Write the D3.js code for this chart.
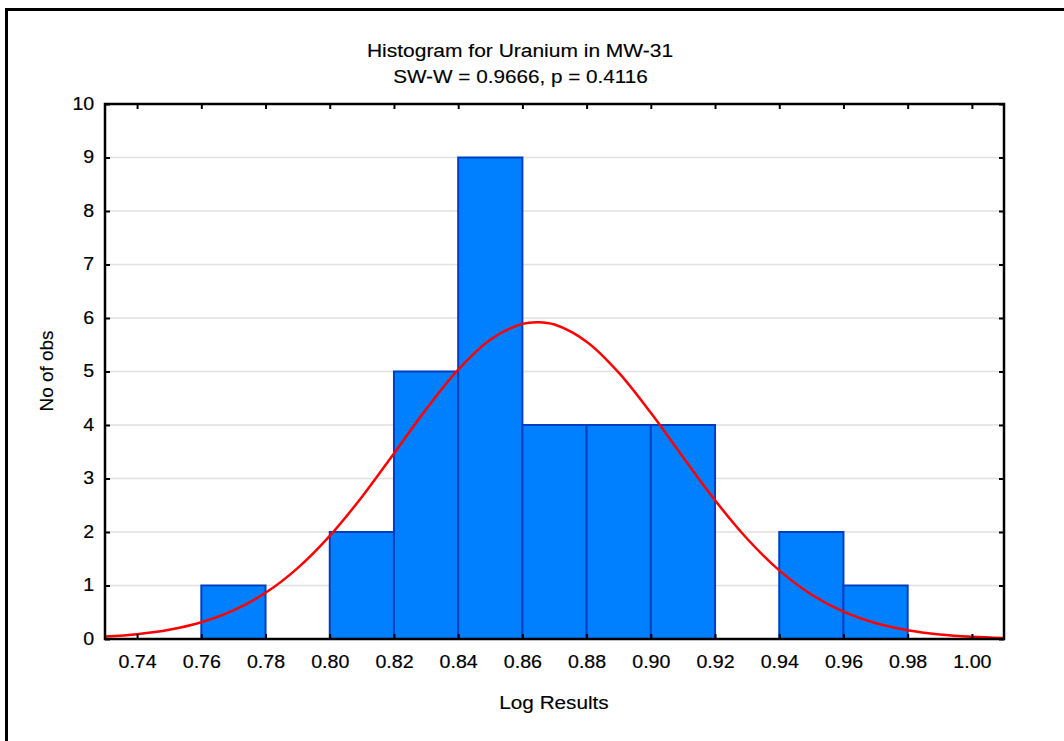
<!DOCTYPE html>
<html><head><meta charset="utf-8">
<script src="https://cdn.jsdelivr.net/npm/d3@7"></script>
<style>
html,body{margin:0;padding:0;background:#fff;}
svg{display:block;font-family:"Liberation Sans",Arial,sans-serif;}
</style></head>
<body><svg id="chart" width="1064" height="741"></svg>
<script>
// ---- data ----
const binStarts = [0.76,0.78,0.80,0.82,0.84,0.86,0.88,0.90,0.92,0.94,0.96];
const binWidth = 0.02;
const counts = [1,0,2,5,9,4,4,4,0,2,1];
const xTicks = [0.74,0.76,0.78,0.80,0.82,0.84,0.86,0.88,0.90,0.92,0.94,0.96,0.98,1.00];
const yTicks = [0,1,2,3,4,5,6,7,8,9,10];
const curveX = [0.73,0.74,0.75,0.76,0.77,0.78,0.79,0.80,0.81,0.82,0.83,0.84,0.85,0.86,0.865,0.87,0.88,0.89,0.90,0.91,0.92,0.93,0.94,0.95,0.96,0.97,0.98,0.99,1.00,1.01];
const curveY = [0.045,0.091,0.173,0.312,0.533,0.863,1.325,1.927,2.655,3.468,4.292,5.034,5.594,5.890,5.922,5.878,5.558,4.980,4.228,3.402,2.593,1.874,1.283,0.832,0.511,0.298,0.164,0.086,0.043,0.020];
const title1 = "Histogram for Uranium in MW-31";
const title2 = "SW-W = 0.9666, p = 0.4116";
const xLabel = "Log Results";
const yLabel = "No of obs";

// ---- layout ----
const svg = d3.select("#chart");
const L = 105, R = 1004, T = 104, B = 639;
const x = d3.scaleLinear().domain([0.73,1.01]).range([L,R]);
const y = d3.scaleLinear().domain([0,10]).range([B,T]);
const FONT = "'Liberation Sans',Arial,sans-serif";

// outer frame
svg.append("rect").attr("x",6.5).attr("y",9.5).attr("width",1100).attr("height",800)
  .attr("fill","none").attr("stroke","#000").attr("stroke-width",3);

// gridlines
svg.append("g").selectAll("line").data(yTicks.slice(1,-1)).join("line")
  .attr("x1",L).attr("x2",R).attr("y1",d=>y(d)).attr("y2",d=>y(d))
  .attr("stroke","#e0e0e0").attr("stroke-width",1.5);

// bars
svg.append("g").selectAll("rect").data(binStarts.map((s,i)=>({s,c:counts[i]})).filter(d=>d.c>0)).join("rect")
  .attr("x",d=>x(d.s)).attr("width",d=>x(d.s+binWidth)-x(d.s))
  .attr("y",d=>y(d.c)).attr("height",d=>y(0)-y(d.c))
  .attr("fill","#0080ff").attr("stroke","#0040c0").attr("stroke-width",2);

// curve
svg.append("defs").append("clipPath").attr("id","clip").append("rect")
  .attr("x",L).attr("y",T).attr("width",R-L).attr("height",B-T);
svg.append("path").datum(curveX.map((v,i)=>[v,curveY[i]]))
  .attr("clip-path","url(#clip)")
  .attr("d",d3.line().x(d=>x(d[0])).y(d=>y(d[1])).curve(d3.curveCatmullRom))
  .attr("fill","none").attr("stroke","#ff0000").attr("stroke-width",2.5);

// axes
const axStyle = g => {
  g.select(".domain").remove();
  g.selectAll(".tick line").attr("stroke","#000").attr("stroke-width",2);
  g.selectAll(".tick text").attr("fill","#000").attr("font-size","18px")
   .attr("stroke","#000").attr("stroke-width",0.2)
   .attr("font-family",FONT);
};
svg.append("g").attr("transform",`translate(0,${B})`)
  .call(d3.axisBottom(x).tickValues(xTicks).tickFormat(d3.format(".2f")).tickSizeInner(-5).tickSizeOuter(0).tickPadding(16))
  .call(axStyle)
  .call(g=>g.selectAll(".tick text").attr("transform","scale(1.09,1)"));
svg.append("g").attr("transform",`translate(0,${T})`)
  .call(d3.axisTop(x).tickValues(xTicks).tickFormat("").tickSizeInner(-5).tickSizeOuter(0))
  .call(axStyle);
svg.append("g").attr("transform",`translate(${L},0)`)
  .call(d3.axisLeft(y).tickValues(yTicks).tickFormat(d3.format("d")).tickSizeInner(-5).tickSizeOuter(0).tickPadding(9))
  .call(axStyle)
  .call(g=>g.selectAll(".tick text").attr("x",-9).attr("dy","0.28em").attr("transform","translate(-1,0) scale(1.09,1)"));
svg.append("g").attr("transform",`translate(${R},0)`)
  .call(d3.axisRight(y).tickValues(yTicks).tickFormat("").tickSizeInner(-5).tickSizeOuter(0))
  .call(axStyle);

// plot frame
svg.append("rect").attr("x",L).attr("y",T).attr("width",R-L).attr("height",B-T)
  .attr("fill","none").attr("stroke","#000").attr("stroke-width",2.5);

// titles
const txt = (s,xx,yy,size,sx,rot) => svg.append("text").text(s)
  .attr("transform",`translate(${xx},${yy}) rotate(${rot||0}) scale(${sx},1)`)
  .attr("text-anchor","middle").attr("font-size",size).attr("fill","#000")
  .attr("stroke","#000").attr("stroke-width",0.15).attr("font-family",FONT);
txt(title1,520,57,"18.5px",1.135);
txt(title2,520.5,83,"18.5px",1.12);
txt(xLabel,554,709,"18.5px",1.12);
txt(yLabel,53,371,"18px",1.05,-90);
</script></body></html>
